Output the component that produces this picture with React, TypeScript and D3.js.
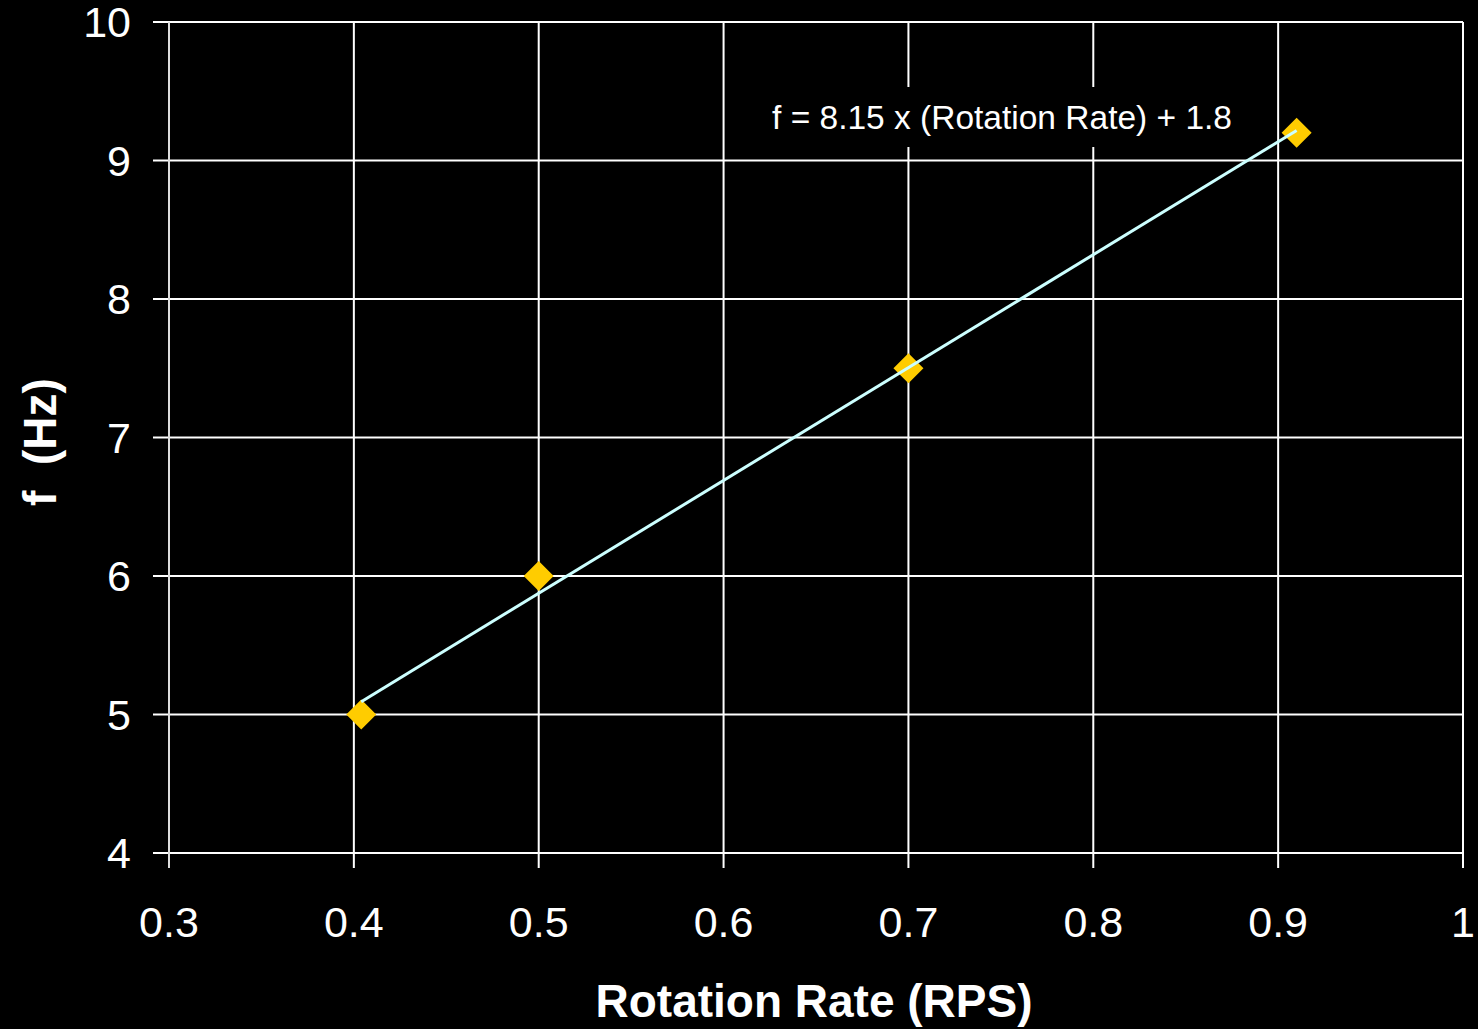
import React from "react";
import * as d3 from "d3";

// Measured rotation rate (revolutions per second) and frequency (Hz)
const rotationRate = [0.404, 0.5, 0.7, 0.91];
const frequency = [5, 6, 7.5, 9.2];

// Linear fit f = slope * rate + intercept
const fitSlope = 8.15;
const fitIntercept = 1.8;
const fitLabel = "f = 8.15 x (Rotation Rate) + 1.8";

const xTicks = [0.3, 0.4, 0.5, 0.6, 0.7, 0.8, 0.9, 1];
const yTicks = [4, 5, 6, 7, 8, 9, 10];

const W = 1478;
const H = 1029;
const plot = { left: 169, right: 1463, top: 22, bottom: 853 };

export default function App() {
  const x = d3.scaleLinear().domain([0.3, 1]).range([plot.left, plot.right]);
  const y = d3.scaleLinear().domain([4, 10]).range([plot.bottom, plot.top]);

  const [xMin, xMax] = d3.extent(rotationRate) as [number, number];
  const fitPts: [number, number][] = [xMin, xMax].map((r) => [r, fitSlope * r + fitIntercept]);
  const line = d3
    .line<[number, number]>()
    .x((d) => x(d[0]))
    .y((d) => y(d[1]));

  const diamond = d3.symbol().type(d3.symbolSquare).size(450)();
  const font = "Arial, 'Liberation Sans', Helvetica, sans-serif";

  return (
    <div style={{ position: "absolute", left: 0, top: 0, background: "#000" }}>
      <svg width={W} height={H} style={{ display: "block", background: "#000" }}>
        <rect width={W} height={H} fill="#000" />
        {/* horizontal gridlines with outward ticks */}
        {yTicks.map((t) => (
          <line key={"gy" + t} x1={plot.left - 16} x2={plot.right} y1={y(t)} y2={y(t)} stroke="#fff" strokeWidth={2} />
        ))}
        {/* vertical gridlines with outward ticks */}
        {xTicks.map((t) => (
          <line key={"gx" + t} x1={x(t)} x2={x(t)} y1={plot.top} y2={plot.bottom + 15} stroke="#fff" strokeWidth={2} />
        ))}
        <line x1={plot.left} x2={plot.left} y1={plot.top} y2={plot.bottom + 15} stroke="#ddd" strokeWidth={2} />

        {/* y tick labels */}
        {yTicks.map((t) => (
          <text key={"ly" + t} x={131} y={y(t) + 15} textAnchor="end" fill="#fff" fontFamily={font} fontSize={43}>
            {t}
          </text>
        ))}
        {/* x tick labels */}
        {xTicks.map((t) => (
          <text key={"lx" + t} x={x(t)} y={937} textAnchor="middle" fill="#fff" fontFamily={font} fontSize={43}>
            {String(t)}
          </text>
        ))}

        {/* equation label with opaque background */}
        <rect x={760} y={87} width={485} height={60} fill="#000" />
        <text x={1002} y={129} textAnchor="middle" fill="#fff" fontFamily={font} fontSize={33.5}>
          {fitLabel}
        </text>

        {/* data points */}
        {rotationRate.map((r, i) => (
          <path
            key={"p" + i}
            d={diamond || ""}
            transform={`translate(${x(r)},${y(frequency[i])}) rotate(45)`}
            fill="#FFCC00"
          />
        ))}

        {/* fitted line */}
        <path d={line(fitPts) || ""} fill="none" stroke="#CCFFFF" strokeWidth={3} />

        {/* axis titles */}
        <text x={814} y={1017} textAnchor="middle" fill="#fff" fontFamily={font} fontWeight="bold" fontSize={46}>
          Rotation Rate (RPS)
        </text>
        <text
          transform={`translate(56,442) rotate(-90)`}
          textAnchor="middle"
          fill="#fff"
          fontFamily={font}
          fontWeight="bold"
          fontSize={46}
          style={{ whiteSpace: "pre" }}
        >
          {"f  (Hz)"}
        </text>
      </svg>
    </div>
  );
}
